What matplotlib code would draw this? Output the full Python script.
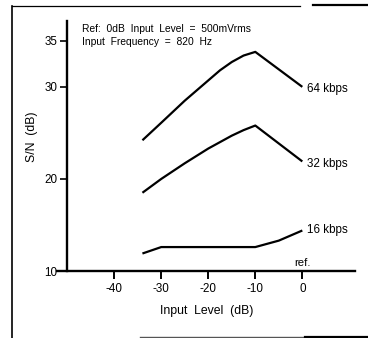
import matplotlib
matplotlib.use("Agg")
import matplotlib.pyplot as plt
from matplotlib.lines import Line2D

plt.rcParams['font.family'] = ['Liberation Sans', 'DejaVu Sans']

# Data
x64 = [-34, -30, -25, -20, -17.5, -15, -12.5, -10, 0]
y64 = [24.2, 26.1, 28.5, 30.7, 31.8, 32.7, 33.4, 33.8, 30.0]
x32 = [-34, -30, -25, -20, -15, -12.5, -10, 0]
y32 = [18.5, 20.0, 21.7, 23.3, 24.7, 25.3, 25.8, 21.9]
x16 = [-34, -30, -10, -5, 0]
y16 = [11.9, 12.6, 12.6, 13.3, 14.4]
series_labels = ["64 kbps", "32 kbps", "16 kbps"]
label_y = [29.8, 21.6, 14.5]
xticks = [-40, -30, -20, -10, 0]
yticks = [10, 20, 30, 35]

W, H = 368, 338
fig = plt.figure(figsize=(W / 100, H / 100), dpi=100)
ax = fig.add_axes([57.3 / W, (H - 271) / H, 297.7 / W, 249.5 / H])

lw = 1.6
for xs, ys in [(x64, y64), (x32, y32), (x16, y16)]:
    ax.plot(xs, ys, color='black', lw=lw, solid_capstyle='butt', solid_joinstyle='round')

for lab, ly in zip(series_labels, label_y):
    ax.text(1.0, ly, lab, ha='left', va='center', fontsize=8.4)
ax.text(0, 10.35, "ref.", ha='center', va='bottom', fontsize=8.2)

ax.set_xlim(-52.1, 11.2)
ax.set_ylim(10, 37.1)
ax.spines['top'].set_visible(False)
ax.spines['right'].set_visible(False)
ax.spines['left'].set_position(('data', -50))
ax.spines['left'].set_linewidth(1.7)
ax.spines['bottom'].set_linewidth(1.7)

ax.set_xticks(xticks)
ax.set_xticklabels([str(t) for t in xticks])
ax.set_yticks(yticks)
ax.set_yticklabels([str(t) for t in yticks])
ax.tick_params(axis='x', direction='out', length=6, width=1.4, pad=3, labelsize=8.4)
ax.tick_params(axis='y', direction='out', length=5, width=1.2, pad=2, labelsize=8.4)
ax.yaxis.get_major_ticks()[0].tick1line.set_visible(False)

fig.text(32 / W, 1 - 137 / H, "S/N  (dB)", rotation=90, ha='center', va='center', fontsize=8.8)
fig.text(207 / W, 1 - 311 / H, "Input  Level  (dB)", ha='center', va='center', fontsize=8.8)

fig.text(81.7 / W, 1 - 29.3 / H, "Ref:  0dB  Input  Level  =  500mVrms", ha='left', va='center', fontsize=7.4)
fig.text(81.7 / W, 1 - 41.7 / H, "Input  Frequency  =  820  Hz", ha='left', va='center', fontsize=7.4)

# page frame lines from the scanned figure
fig.add_artist(Line2D([11.5 / W, 11.5 / W], [0, 1 - 6 / H], transform=fig.transFigure, color='black', lw=1.2))
fig.add_artist(Line2D([11.5 / W, 300 / W], [1 - 6 / H, 1 - 6 / H], transform=fig.transFigure, color='black', lw=0.9))
fig.add_artist(Line2D([313 / W, 1], [1 - 5 / H, 1 - 5 / H], transform=fig.transFigure, color='black', lw=1.6))
fig.add_artist(Line2D([140 / W, 1], [1.5 / H, 1.5 / H], transform=fig.transFigure, color='#555555', lw=1.0))
fig.add_artist(Line2D([305 / W, 1], [1.5 / H, 1.5 / H], transform=fig.transFigure, color='black', lw=1.6))

fig.savefig("out.png", dpi=100)
